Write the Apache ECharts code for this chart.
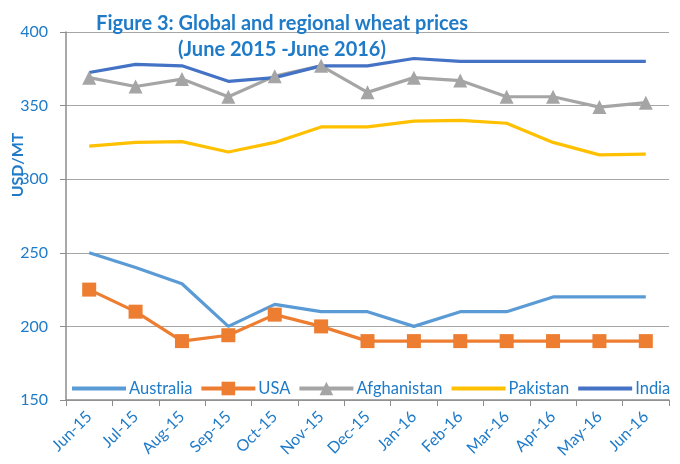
<!DOCTYPE html>
<html><head><meta charset="utf-8">
<script src="https://cdn.jsdelivr.net/npm/echarts@6/dist/echarts.min.js"></script>
<style>html,body{margin:0;padding:0;background:#fff}#c{width:680px;height:464px}</style>
</head><body><div id="c"></div>
<script>
const categories = ['Jun-15','Jul-15','Aug-15','Sep-15','Oct-15','Nov-15','Dec-15','Jan-16','Feb-16','Mar-16','Apr-16','May-16','Jun-16'];
const australia = [250,240,229,200,215,210,210,200,210,210,220,220,220];
const usa = [225,210,190,194,208,200,190,190,190,190,190,190,190];
const afghanistan = [369,363,368,356,370,377,359,369,367,356,356,349,352];
const pakistan = [322.5,325,325.5,318.5,325,335.5,335.5,339.5,340,338,325,316.5,317];
const india = [372.5,378,377,366.5,369,377,377,382,380,380,380,380,380];
const seriesNames = ['Australia','USA','Afghanistan','Pakistan','India'];
const yTicks = {min:150, max:400, step:50};

const blue = '#1F7BC8';
const font = 'Lato';
const hidden = {color:'rgba(0,0,0,0)', borderColor:'rgba(0,0,0,0)', borderWidth:0};
const chart = echarts.init(document.getElementById('c'));
function s(name, data, color, symbol, size) {
  return {name, type:'line', data, smooth:false,
    symbol: symbol || 'none', symbolSize: size || 0, showSymbol: !!symbol,
    lineStyle:{color, width:3.2}, itemStyle:{color}, z: 2};
}
chart.setOption({
  animation:false,
  textStyle:{fontFamily:font},
  title:{text:'Figure 3: Global and regional wheat prices\n(June 2015 -June 2016)', left:277, top:6, textAlign:'center',
    textStyle:{color:blue, fontSize:20, fontWeight:'bold', fontFamily:font, lineHeight:26}},
  graphic:[{type:'text', x:18, y:165, rotation:Math.PI/2,
    style:{text:'USD/MT', fill:blue, font:'bold 16px Lato', textAlign:'center', textVerticalAlign:'middle'}}],
  grid:{left:66, right:11, top:32, bottom:64, containLabel:false},
  legend:{left:70, top:380, width:720, padding:0, itemWidth:54, itemHeight:17, itemGap:7,
    lineStyle:{width:4},
    textStyle:{color:blue, fontSize:16.5, fontFamily:font, padding:[0,0,0,-2]},
    data:[
      {name:seriesNames[0], itemStyle:hidden},
      {name:seriesNames[1]},
      {name:seriesNames[2]},
      {name:seriesNames[3], itemStyle:hidden},
      {name:seriesNames[4], itemStyle:hidden}
    ]},
  xAxis:{type:'category', data:categories, boundaryGap:true,
    axisLine:{lineStyle:{color:'#8C8C8C', width:1.5}},
    axisTick:{show:true, alignWithLabel:false, length:6, lineStyle:{color:'#8C8C8C'}},
    axisLabel:{rotate:45, color:blue, fontSize:16, fontFamily:font, margin:14, interval:0}},
  yAxis:{type:'value', min:yTicks.min, max:yTicks.max, interval:yTicks.step,
    axisLine:{show:true, lineStyle:{color:'#8C8C8C', width:1.5}},
    axisTick:{show:true, length:6, lineStyle:{color:'#8C8C8C'}},
    axisLabel:{color:blue, fontSize:16, fontFamily:font, margin:18},
    splitLine:{lineStyle:{color:'#A6A6A6', width:1.2}}},
  series:[
    s(seriesNames[0], australia, '#5B9BD5'),
    s(seriesNames[1], usa, '#ED7D31', 'rect', 14),
    s(seriesNames[2], afghanistan, '#A5A5A5', 'triangle', 14),
    s(seriesNames[3], pakistan, '#FFC000'),
    s(seriesNames[4], india, '#4472C4')
  ]
});
</script></body></html>
